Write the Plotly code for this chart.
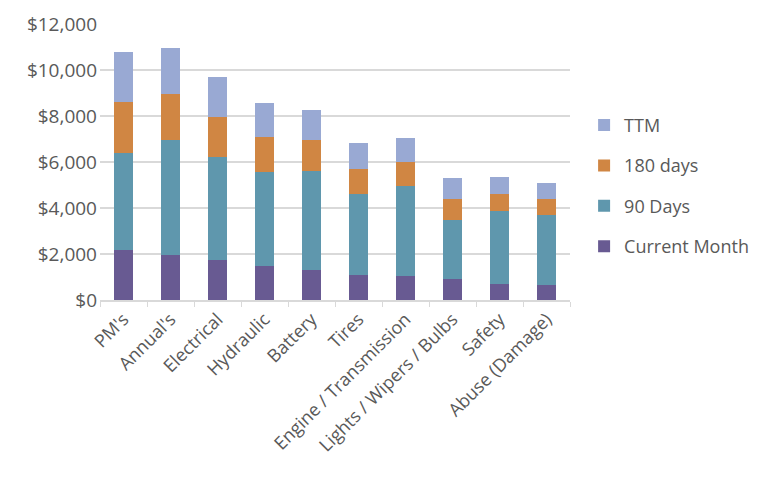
import plotly.graph_objects as go

categories = ["PM's", "Annual's", "Electrical", "Hydraulic", "Battery", "Tires",
              "Engine / Transmission", "Lights / Wipers / Bulbs", "Safety", "Abuse (Damage)"]
current_month = [2170, 1940, 1730, 1490, 1300, 1090, 1040, 900, 710, 650]
days_90 = [4220, 5020, 4490, 4090, 4320, 3500, 3920, 2590, 3150, 3030]
days_180 = [2200, 2000, 1750, 1520, 1340, 1090, 1030, 900, 730, 730]
ttm = [2180, 2000, 1710, 1480, 1300, 1130, 1070, 900, 760, 660]

series = [
    ("Current Month", current_month, "#685a92"),
    ("90 Days", days_90, "#5f97ad"),
    ("180 days", days_180, "#d08643"),
    ("TTM", ttm, "#99a9d3"),
]

fig = go.Figure()
n = len(series)
for i, (name, vals, color) in enumerate(series):
    fig.add_trace(go.Bar(x=categories, y=vals, name=name, marker_color=color,
                         marker_line_width=0, legendgroup=name,
                         legendrank=n - i))

font_color = "#595959"
fig.update_layout(
    barmode="stack",
    bargap=0.6,
    width=768, height=480,
    margin=dict(l=100, r=198, t=24, b=180),
    paper_bgcolor="white", plot_bgcolor="white",
    font=dict(family="Open Sans", size=18, color=font_color),
    legend=dict(traceorder="grouped", x=1.03, y=0.70, xanchor="left", yanchor="top",
                tracegroupgap=14, font=dict(size=18, color=font_color),
                itemwidth=30),
    showlegend=True,
)
fig.update_yaxes(range=[0, 12000], dtick=2000, tickprefix="$", tickformat=",",
                 showgrid=True, gridcolor="#d9d9d9", gridwidth=1.5,
                 zeroline=False, showline=False, ticks="", ticklabelstandoff=2,
                 tickfont=dict(size=19, color=font_color))
fig.update_xaxes(tickangle=-45, showline=True, linecolor="#d9d9d9", linewidth=1.5,
                 ticks="outside", tickson="boundaries", ticklen=5, tickcolor="#d9d9d9",
                 tickfont=dict(size=18, color=font_color))

fig.write_html("out.html")
